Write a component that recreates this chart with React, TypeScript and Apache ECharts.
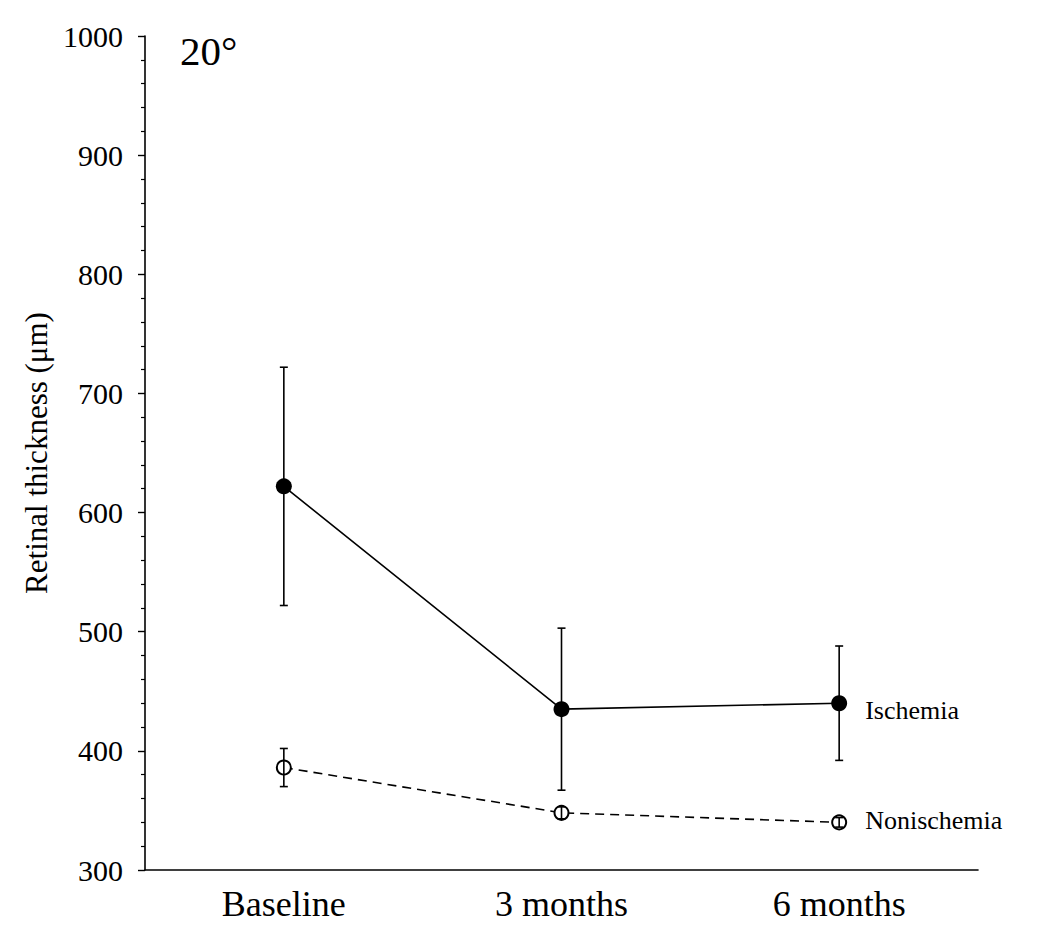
import React, { useEffect, useRef } from 'react';
import * as echarts from 'echarts';

const categories = ['Baseline', '3 months', '6 months'];
const ischemiaMean = [622, 435, 440];
const ischemiaErr = [100, 68, 48];
const nonischemiaMean = [386, 348, 340];
const nonischemiaErr = [16, 5, 4];
const yMin = 300;
const yMax = 1000;
const yInterval = 100;

const FONT = '"Liberation Serif", "Times New Roman", serif';

function errData(mean: number[], err: number[]) {
  return mean.map((m, i) => [i, m - err[i], m + err[i]]);
}

function errorSeries(name: string, data: number[][]) {
  return {
    type: 'custom',
    name,
    z: 5,
    renderItem: (params: any, api: any) => {
      const x = api.value(0);
      const lo = api.coord([x, api.value(1)]);
      const hi = api.coord([x, api.value(2)]);
      const cap = 4;
      const style = { stroke: '#000', lineWidth: 1.6 };
      return {
        type: 'group',
        children: [
          { type: 'line', shape: { x1: lo[0], y1: lo[1], x2: hi[0], y2: hi[1] }, style },
          { type: 'line', shape: { x1: lo[0] - cap, y1: lo[1], x2: lo[0] + cap, y2: lo[1] }, style },
          { type: 'line', shape: { x1: hi[0] - cap, y1: hi[1], x2: hi[0] + cap, y2: hi[1] }, style },
        ],
      };
    },
    encode: { x: 0, y: [1, 2] },
    data,
    silent: true,
  };
}

export default function App() {
  const ref = useRef<HTMLDivElement>(null);
  useEffect(() => {
    if (!ref.current) return;
    const chart = echarts.init(ref.current, undefined, { renderer: 'svg' });
    const lastLabel = (name: string, offsetY: number) => ({
      show: true,
      position: 'right',
      distance: 18,
      offset: [0, offsetY],
      formatter: name,
      fontFamily: FONT,
      fontSize: 26,
      color: '#000',
    });
    chart.setOption({
      animation: false,
      backgroundColor: '#fff',
      grid: { left: 145, right: 72, top: 36, bottom: 78, containLabel: false },
      xAxis: {
        type: 'category',
        data: categories,
        boundaryGap: true,
        axisLine: { lineStyle: { color: '#000', width: 1.6 } },
        axisTick: { show: false },
        axisLabel: { color: '#000', fontFamily: FONT, fontSize: 36, margin: 16 },
      },
      yAxis: {
        type: 'value',
        min: yMin,
        max: yMax,
        interval: yInterval,
        name: 'Retinal thickness (μm)',
        nameLocation: 'middle',
        nameGap: 92,
        nameTextStyle: { color: '#000', fontFamily: FONT, fontSize: 31 },
        axisLine: { show: true, lineStyle: { color: '#000', width: 1.6 } },
        axisTick: { show: true, length: 7, lineStyle: { color: '#000', width: 1.4 } },
        minorTick: { show: true, splitNumber: 5, length: 4, lineStyle: { color: '#000', width: 1.2 } },
        splitLine: { show: false },
        axisLabel: {
          color: '#000',
          fontFamily: FONT,
          fontSize: 30,
          margin: 22,
          formatter: (v: number) => String(v),
        },
      },
      graphic: [
        {
          type: 'text',
          left: 180,
          top: 30,
          style: { text: '20°', fontFamily: FONT, fontSize: 41, fill: '#000' },
        },
      ],
      series: [
        {
          type: 'line',
          name: 'Ischemia',
          data: ischemiaMean.map((v, i) =>
            i === ischemiaMean.length - 1 ? { value: v, label: lastLabel('Ischemia', 7) } : v
          ),
          symbol: 'circle',
          symbolSize: 16,
          lineStyle: { color: '#000', width: 1.6 },
          itemStyle: { color: '#000' },
          z: 3,
        },
        {
          type: 'line',
          name: 'Nonischemia',
          data: nonischemiaMean.map((v, i) =>
            i === nonischemiaMean.length - 1 ? { value: v, label: lastLabel('Nonischemia', -2) } : v
          ),
          symbol: 'emptyCircle',
          symbolSize: 14,
          lineStyle: { color: '#000', width: 1.6, type: [9, 6] },
          itemStyle: { color: '#000', borderWidth: 1.6, borderColor: '#000' },
          z: 3,
        },
        errorSeries('Ischemia error', errData(ischemiaMean, ischemiaErr)),
        errorSeries('Nonischemia error', errData(nonischemiaMean, nonischemiaErr)),
      ],
    });
    return () => chart.dispose();
  }, []);
  return <div ref={ref} style={{ width: 1050, height: 948, margin: -8 }} />;
}
